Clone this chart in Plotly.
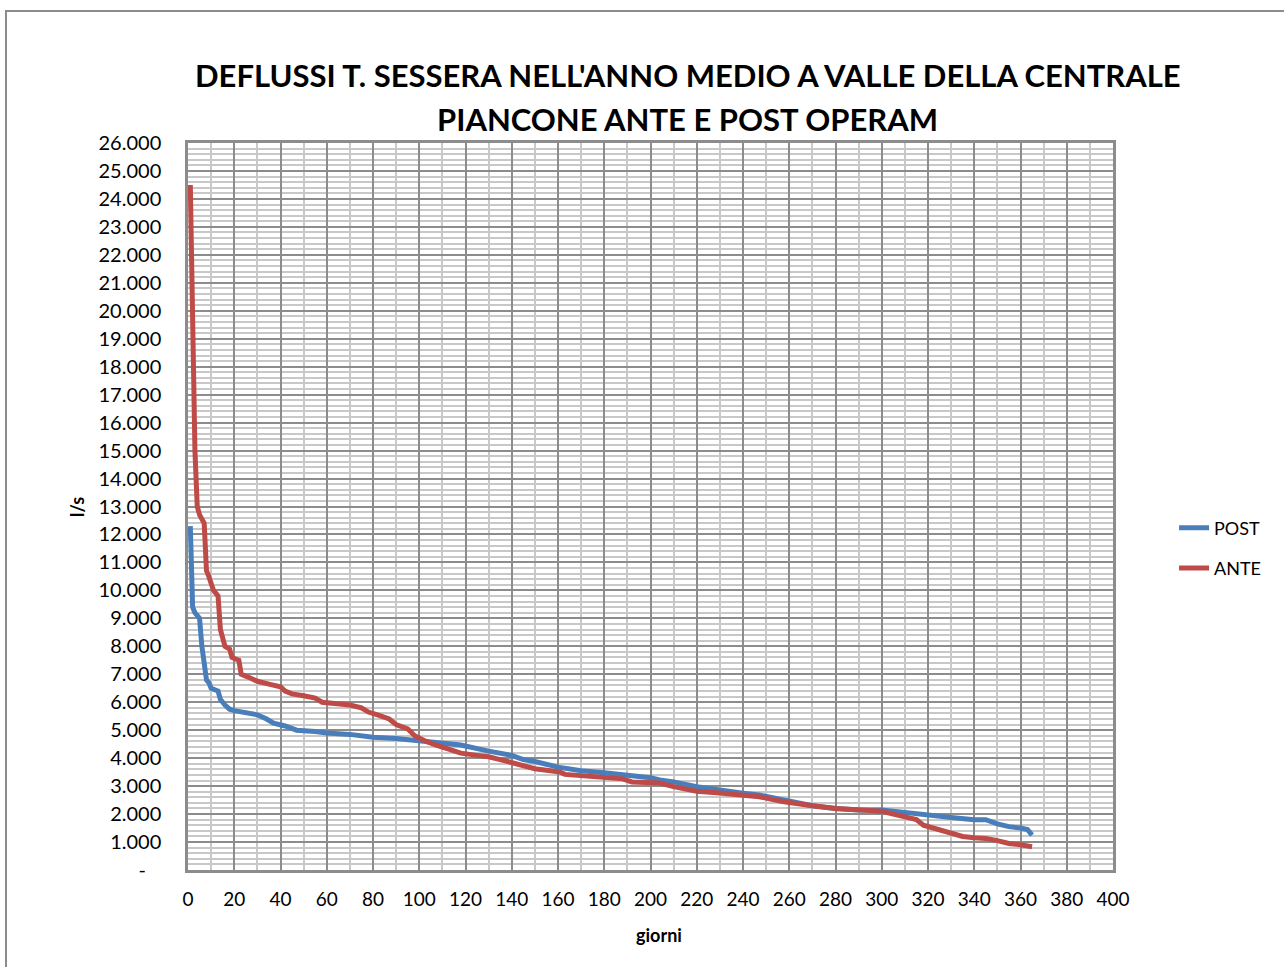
import plotly.graph_objects as go

FONT = 'Lato'
BLUE = '#4a7ebb'
RED = '#be4b48'
GRID_MAJOR = '#8c8c8c'
GRID_MINOR = '#c8c8c8'

# giorni / portate (l/s)
giorni_post = [1, 2, 3, 5, 6, 7, 8, 9, 10, 13, 14, 16, 18, 20, 25, 30, 34, 37, 42, 47, 55,
               60, 70, 80, 90, 100, 110, 118, 130, 140, 145, 150, 160, 170, 180, 190, 200,
               204, 210, 220, 230, 240, 247, 260, 270, 280, 290, 300, 310, 320, 330, 340,
               345, 350, 355, 360, 363, 365]
post = [12300, 9400, 9200, 9000, 8000, 7200, 6800, 6700, 6500, 6400, 6100, 5900, 5750, 5700,
        5620, 5550, 5400, 5250, 5150, 5000, 4950, 4900, 4850, 4750, 4700, 4620, 4550, 4470,
        4250, 4100, 3950, 3880, 3680, 3550, 3480, 3400, 3300, 3220, 3150, 2980, 2850, 2750,
        2680, 2450, 2300, 2200, 2150, 2150, 2050, 1980, 1880, 1800, 1800, 1650, 1550, 1500,
        1450, 1250]

giorni_ante = [1, 2, 3, 4, 5, 7, 8, 9, 11, 12, 13, 14, 15, 16, 18, 19, 22, 23, 26, 30, 35,
               40, 42, 45, 50, 55, 58, 65, 70, 75, 78, 82, 87, 90, 95, 98, 103, 108, 112,
               118, 125, 130, 135, 140, 145, 150, 155, 161, 163, 170, 180, 188, 192, 200,
               204, 210, 215, 220, 230, 240, 247, 257, 262, 270, 280, 290, 300, 305, 310,
               315, 318, 325, 330, 335, 340, 345, 350, 355, 360, 365]
ante = [24500, 18000, 15000, 13000, 12700, 12400, 10700, 10500, 10000, 9900, 9800, 8600,
        8300, 8000, 7900, 7600, 7500, 7000, 6900, 6750, 6650, 6550, 6400, 6300, 6230, 6150,
        6000, 5950, 5900, 5800, 5650, 5550, 5400, 5200, 5050, 4800, 4600, 4450, 4350, 4180,
        4100, 4050, 3950, 3850, 3750, 3620, 3570, 3500, 3420, 3380, 3320, 3260, 3150, 3120,
        3110, 2980, 2880, 2820, 2750, 2680, 2620, 2450, 2380, 2300, 2200, 2150, 2100, 2000,
        1900, 1800, 1600, 1450, 1300, 1200, 1150, 1130, 1050, 950, 900, 830]

y_ticks = list(range(0, 27000, 1000))
y_labels = ['-\u00a0\u00a0\u00a0'] + [f'{v // 1000}.000' for v in y_ticks[1:]]

titolo = ["DEFLUSSI T. SESSERA NELL'ANNO MEDIO A VALLE DELLA CENTRALE",
          "PIANCONE ANTE E POST OPERAM"]

fig = go.Figure()
fig.add_trace(go.Scatter(x=giorni_post, y=post, name='POST', mode='lines',
                         line=dict(color=BLUE, width=5), legendgroup='a'))
fig.add_trace(go.Scatter(x=giorni_ante, y=ante, name='ANTE', mode='lines',
                         line=dict(color=RED, width=5), legendgroup='b'))

fig.update_layout(
    width=1284, height=967,
    margin=dict(l=188, r=171, t=143, b=97),
    paper_bgcolor='white', plot_bgcolor='white',
    font=dict(family=FONT, size=19, color='black'),
    legend=dict(x=1.066, y=0.443, yanchor='middle', font=dict(size=18),
                tracegroupgap=14, traceorder='grouped'),
    showlegend=True,
)
fig.update_xaxes(
    range=[0, 400], dtick=20, tick0=0,
    showgrid=True, gridcolor=GRID_MAJOR, gridwidth=1.5,
    minor=dict(dtick=10, showgrid=True, gridcolor=GRID_MINOR, gridwidth=1.5),
    showline=True, linecolor=GRID_MAJOR, linewidth=2.5, mirror=True,
    ticks='', ticklabelstandoff=10, zeroline=False,
)
fig.update_yaxes(
    range=[0, 26000], tickvals=y_ticks, ticktext=y_labels,
    showgrid=True, gridcolor=GRID_MAJOR, gridwidth=1.5,
    minor=dict(dtick=200, showgrid=True, gridcolor=GRID_MINOR, gridwidth=1.5),
    showline=True, linecolor=GRID_MAJOR, linewidth=2.5, mirror=True,
    ticks='', ticklabelstandoff=20, zeroline=False, tickfont=dict(size=20),
)

for riga, ypx in zip(titolo, [75, 119]):
    fig.add_annotation(text=f'<b>{riga}</b>', xref='paper', yref='paper',
                       x=0.5405, y=(870 - ypx) / 727, showarrow=False,
                       font=dict(size=31, family=FONT), yanchor='middle')
fig.add_annotation(text='<b>giorni</b>', xref='paper', yref='paper', x=0.509, y=-0.0894,
                   showarrow=False, font=dict(size=18), yanchor='middle')
fig.add_annotation(text='<b>l/s</b>', xref='paper', yref='paper', x=-0.12, y=0.4993,
                   showarrow=False, font=dict(size=18), textangle=-90, xanchor='center')

# bordo dell'area del grafico
fig.add_shape(type='rect', xref='paper', yref='paper',
              x0=(6 - 188) / 925, x1=(1300 - 188) / 925,
              y0=(870 - 990) / 727, y1=(870 - 11) / 727,
              line=dict(color='#8c8c8c', width=2), layer='below')

# niente margine della pagina, la figura parte da (0, 0)
fig.write_html('out.html', config={'displayModeBar': False},
               post_script="document.body.style.margin='0';")
